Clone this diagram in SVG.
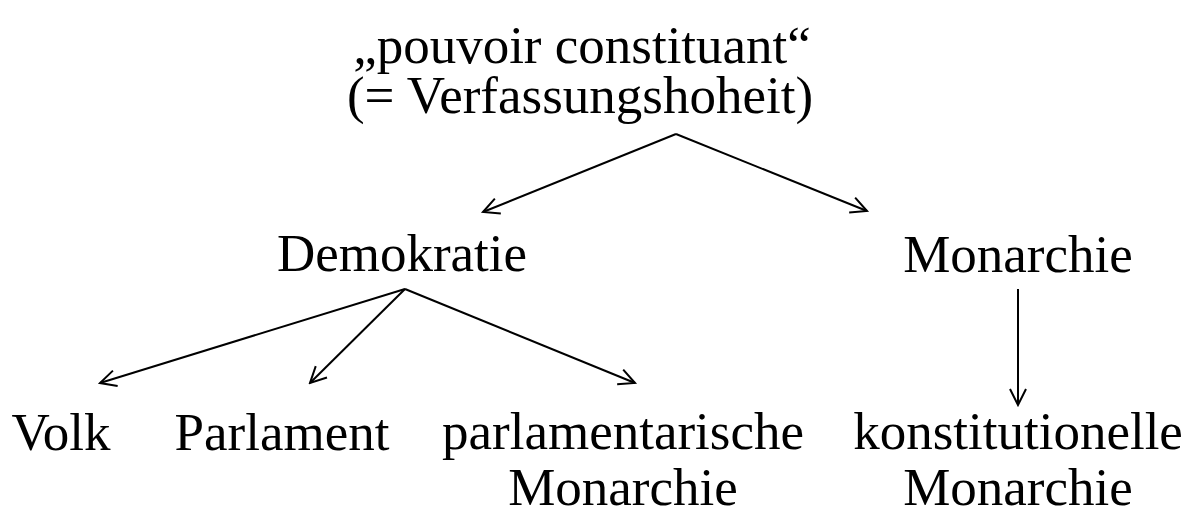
<svg xmlns="http://www.w3.org/2000/svg" width="1196" height="510" viewBox="0 0 1196 510">
<style>
text{font-family:"Liberation Serif","Times New Roman",serif;font-size:53px;fill:#000;text-anchor:middle}
.c line{stroke:#000;stroke-width:2;fill:none}
</style>
<defs>
<marker id="ah" markerWidth="20" markerHeight="20" refX="18" refY="10" orient="auto" markerUnits="userSpaceOnUse">
<path d="M2,2 L18,10 L2,18" fill="none" stroke="#000" stroke-width="2"/>
</marker>
</defs>
<rect width="1196" height="510" fill="#fff"/>
<g id="root"><text x="582" y="63">„pouvoir constituant“</text><text x="580" y="113">(= Verfassungshoheit)</text></g>
<g id="demokratie"><text x="402" y="271">Demokratie</text></g>
<g id="monarchie"><text x="1018" y="272">Monarchie</text></g>
<g id="volk"><text x="61" y="450">Volk</text></g>
<g id="parlament"><text x="282" y="450">Parlament</text></g>
<g id="parlmon"><text x="623" y="449">parlamentarische</text><text x="623" y="505">Monarchie</text></g>
<g id="konstmon"><text x="1018" y="449">konstitutionelle</text><text x="1018" y="505">Monarchie</text></g>
<g class="c" id="connectors">
<line x1="676" y1="134" x2="483" y2="212" marker-end="url(#ah)"/>
<line x1="676" y1="134" x2="867" y2="211" marker-end="url(#ah)"/>
<line x1="405" y1="289" x2="100" y2="383" marker-end="url(#ah)"/>
<line x1="405" y1="289" x2="310" y2="383" marker-end="url(#ah)"/>
<line x1="405" y1="289" x2="635" y2="383" marker-end="url(#ah)"/>
<line x1="1018" y1="289" x2="1018" y2="405" marker-end="url(#ah)"/>
</g>
</svg>
